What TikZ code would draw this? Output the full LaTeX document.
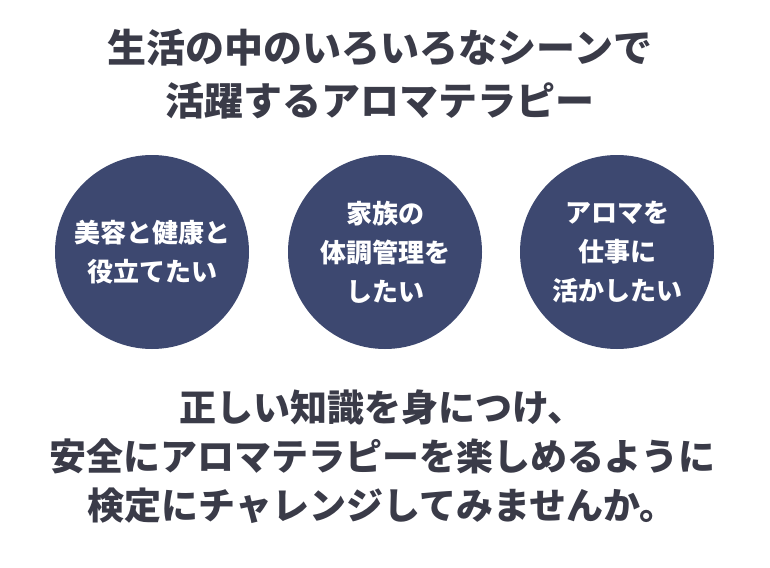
\documentclass[tikz,border=0pt]{standalone}
\usepackage{fontspec}
\newfontfamily\jp{Noto Sans CJK JP}
\definecolor{navy}{HTML}{3D4870}
\definecolor{ink}{HTML}{3A3B48}
\begin{document}
\begin{tikzpicture}[x=1pt,y=-1pt,
  title/.style={text=ink,font=\jp\fontsize{39}{53}\selectfont\bfseries,align=center,inner sep=0},
  body/.style={text=ink,font=\jp\fontsize{37}{49}\selectfont\bfseries,align=center,inner sep=0},
  bubble/.style={circle,fill=navy,minimum size=194pt,inner sep=0},
  btext/.style={text=white,font=\jp\fontsize{26}{39}\selectfont\bfseries,align=center,inner sep=0}]
\useasboundingbox[fill=white] (0,0) rectangle (770,567);
\node[title] (t) at (380,74) {生活の中のいろいろなシーンで\\活躍するアロマテラピー};
\node[bubble] (c1) at (152,252) {};
\node[bubble] (c2) at (385,252) {};
\node[bubble] (c3) at (617,252) {};
\node[btext] (l1) at (c1) {美容と健康と\\役立てたい};
\node[btext] (l2) at (c2) {家族の\\体調管理を\\したい};
\node[btext] (l3) at (c3) {アロマを\\仕事に\\活かしたい};
\node[body,text width=760pt] (b) at (382,457) {正しい知識を身につけ、\\安全にアロマテラピーを楽しめるように\\検定にチャレンジしてみませんか。};
\end{tikzpicture}
\end{document}
